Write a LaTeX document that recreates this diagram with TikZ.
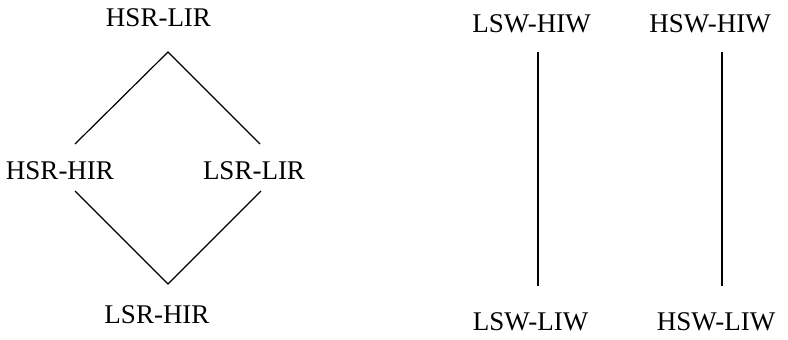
\documentclass[tikz,border=0pt]{standalone}
\usepackage{fontspec}
\setmainfont{Liberation Serif}
\begin{document}
\begin{tikzpicture}[x=1pt,y=-1pt,
  lbl/.style={inner sep=0pt,anchor=base,font=\fontsize{27}{30}\selectfont},
  conn/.style={line width=1.2pt,line join=miter}]
\useasboundingbox[fill=white] (0,0) rectangle (788,340);
% left diamond
\node[lbl] (hsrlir) at (158.5,27) {HSR-LIR};
\node[lbl] (hsrhir) at (60,179) {HSR-HIR};
\node[lbl] (lsrlir) at (254,179) {LSR-LIR};
\node[lbl] (lsrhir) at (157,323) {LSR-HIR};
\coordinate (dtop) at (168,52);
\coordinate (dbot) at (168,284);
\coordinate (dl1) at (75,144);
\coordinate (dr1) at (260,144);
\coordinate (dl2) at (75,191);
\coordinate (dr2) at (261,191);
\draw[conn] (dl1) -- (dtop) -- (dr1);
\draw[conn] (dl2) -- (dbot) -- (dr2);
% right pairs
\node[lbl] (lswhiw) at (531.5,32) {LSW-HIW};
\node[lbl] (hswhiw) at (710,32) {HSW-HIW};
\node[lbl] (lswliw) at (530.5,330) {LSW-LIW};
\node[lbl] (hswliw) at (716,330) {HSW-LIW};
\coordinate (a1) at (538,52);
\coordinate (a2) at (538,286);
\coordinate (b1) at (722,52);
\coordinate (b2) at (722,286);
\draw[conn] (a1) -- (a2);
\draw[conn] (b1) -- (b2);
\end{tikzpicture}
\end{document}
